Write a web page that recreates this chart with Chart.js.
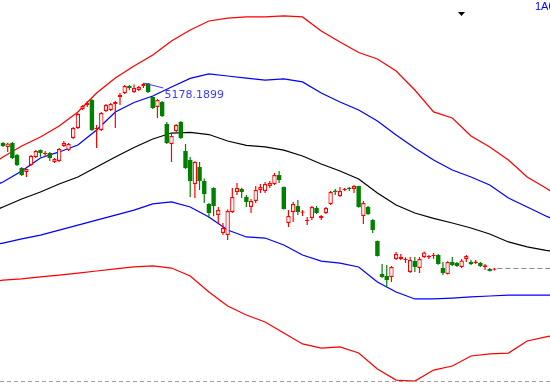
<!DOCTYPE html>
<html><head><meta charset="utf-8">
<script src="https://cdn.jsdelivr.net/npm/chart.js@4/dist/chart.umd.min.js"></script>
<style>html,body{margin:0;padding:0;background:#fff;overflow:hidden}#wrap{width:550px;height:384px;position:relative}</style>
</head><body><div id="wrap"><canvas id="c" width="550" height="384"></canvas></div>
<script>
// Daily candles (index = trading day)
const opens = [4494,4449,4494,4357,4209,4164,4243,4335,4414,4369,4380,4278,4289,4460,4414,4551,4665,4882,4927,4984,4654,4642,4859,4870,4939,5019,5064,5144,5076,5098,5144,5174,5019,4905,4962,4711,4483,4631,4734,4403,4300,4027,4221,4061,3799,3981,3673,3468,3445,3708,3936,3970,3879,3765,3833,3958,3947,4004,4027,4129,3993,3582,3708,3776,3700,3605,3639,3753,3639,3696,3799,3947,3890,3958,3981,3970,4004,3662,3765,3616,3377,3001,2978,2967,3172,3172,3160,3024,3149,3069,3195,3190,3206,3217,3069,3001,3138,3126,3081,3172,3138,3126,3126,3081,3058,3050];
const highs = [4506,4496,4506,4369,4221,4200,4357,4414,4420,4403,4392,4323,4437,4517,4494,4677,4836,4927,4973,4996,4699,4848,4939,4950,4973,5064,5155,5155,5160,5144,5178.1899,5177,5030,4996,4973,4734,4597,4711,4745,4483,4335,4289,4278,4090,3810,3990,3765,3582,3735,3981,4038,3985,3901,3856,4004,4027,4050,4061,4152,4175,3998,3730,3822,3844,3730,3650,3776,3776,3673,3765,3948,3970,3993,3981,3993,4015,4008,3833,3776,3628,3382,3115,3103,3092,3252,3229,3190,3195,3195,3195,3257,3217,3240,3229,3138,3145,3195,3138,3172,3217,3160,3160,3138,3115,3069,3069];
const lows = [4449,4392,4312,4232,4118,4107,4232,4323,4335,4335,4289,4266,4278,4449,4403,4540,4654,4870,4905,4631,4437,4631,4848,4859,4665,4927,5053,5098,5064,5087,5121,5064,4882,4779,4791,4483,4278,4620,4540,4198,3878,3867,3958,3810,3640,3660,3580,3445,3388,3696,3901,3867,3765,3696,3810,3924,3924,3981,4015,4038,3735,3536,3594,3673,3662,3559,3616,3685,3616,3685,3787,3901,3879,3947,3947,3924,3755,3571,3673,3468,3200,2955,2851,2910,3160,3160,3126,3012,3024,3012,3183,3172,3172,3105,2989,2995,3092,3081,3069,3138,3103,3115,3081,3046,3030,3040];
const closes = [4460,4488,4323,4243,4129,4198,4346,4403,4380,4380,4323,4312,4426,4494,4483,4665,4825,4916,4950,4642,4665,4836,4927,4939,4962,5041,5144,5121,5121,5133,5167,5076,4893,4984,4802,4494,4574,4699,4551,4209,4061,4278,4061,3913,3696,3776,3730,3525,3719,3879,3981,3936,3822,3833,3958,3993,4027,4038,4129,4072,3742,3662,3799,3708,3710,3616,3765,3696,3662,3753,3936,3936,3947,3970,3970,4004,3765,3810,3685,3502,3206,2967,2932,3081,3229,3195,3170,3160,3081,3172,3246,3206,3215,3115,3012,3138,3103,3092,3155,3206,3115,3143,3092,3101,3036,3053];

// Band lines, sampled at these trading-day slots
const bandSlots = [-1,0,4,8,12,16,20,24,28,32,36,40,44,48,52,56,60,64,68,72,76,80,84,88,92,96,100,104,108,112,116,117];
const upperOuter = [4300,4335,4460,4563,4688,4848,5064,5235,5372,5497,5657,5782,5885,5919,5931,5931,5942,5931,5771,5646,5526,5452,5315,5098,4848,4779,4574,4449,4300,4107,3981,3947];
const upperInner = [4027,4050,4175,4323,4392,4471,4642,4848,4956,5030,5133,5230,5281,5258,5235,5212,5224,5190,5064,4962,4870,4745,4585,4437,4300,4186,4107,4015,3867,3765,3662,3639];
const middle = [3742,3765,3856,3936,4027,4107,4221,4335,4443,4540,4608,4614,4591,4517,4466,4449,4414,4346,4255,4175,4084,3924,3787,3696,3634,3582,3525,3457,3366,3309,3269,3263];
const lowerInner = [3343,3354,3400,3445,3502,3559,3616,3673,3730,3799,3822,3765,3651,3502,3423,3411,3331,3217,3148,3126,3081,2910,2796,2716,2716,2727,2739,2750,2761,2761,2761,2761];
const lowerOuter = [2921,2932,2944,2967,2989,3012,3035,3058,3081,3092,3069,2978,2796,2636,2533,2454,2328,2203,2157,2169,2100,1918,1792,1781,1906,1952,2066,2089,2100,2237,2283,2294];

const codeLabel = '1A0001';

const N = opens.length;
const idx = opens.map((_, i) => i);
const isUp = idx.map(i => closes[i] >= opens[i]);
const UP = '#ff0000', DOWN = '#008000';
const band = arr => bandSlots.map((s, k) => ({x: s, y: arr[k]}));
const lineDs = (arr, color) => ({type: 'line', data: band(arr), borderColor: color, borderWidth: 1.25, pointRadius: 0, tension: 0, fill: false, order: 2});

const overlay = {
  id: 'overlay',
  afterDatasetsDraw(chart) {
    const {ctx, chartArea} = chart;
    const xs = chart.scales.x, ys = chart.scales.y;
    ctx.save();
    ctx.lineWidth = 1;
    ctx.strokeStyle = '#a0a0a0'; ctx.setLineDash([4, 3]);
    ctx.beginPath(); ctx.moveTo(chartArea.left, chartArea.bottom - 2.5); ctx.lineTo(chartArea.right, chartArea.bottom - 2.5); ctx.stroke();
    const last = N - 1;
    const ly = Math.round(ys.getPixelForValue(closes[last])) - 0.5;
    ctx.strokeStyle = '#888888'; ctx.setLineDash([5, 3]);
    ctx.beginPath(); ctx.moveTo(xs.getPixelForValue(last) + 3, ly); ctx.lineTo(chartArea.right, ly); ctx.stroke();
    ctx.setLineDash([]);
    let mi = 0; highs.forEach((h, i) => { if (h > highs[mi]) mi = i; });
    const px = xs.getPixelForValue(mi), py = ys.getPixelForValue(highs[mi]);
    ctx.strokeStyle = '#3c3cff';
    ctx.beginPath(); ctx.moveTo(px, py); ctx.lineTo(px + 20, py + 5); ctx.stroke();
    ctx.fillStyle = '#3c3cff'; ctx.font = '11px "DejaVu Sans"'; ctx.textBaseline = 'alphabetic'; ctx.textAlign = 'left';
    ctx.fillText(highs[mi].toFixed(4), px + 21, py + 15);
    ctx.fillStyle = '#0000ff'; ctx.font = '11px "Liberation Sans"'; ctx.textBaseline = 'top';
    ctx.fillText(codeLabel, 535, 1);
    ctx.fillStyle = '#000';
    ctx.beginPath(); ctx.moveTo(458, 12); ctx.lineTo(465, 12); ctx.lineTo(461.5, 16); ctx.closePath(); ctx.fill();
    ctx.restore();
  }
};

new Chart(document.getElementById('c'), {
  type: 'bar',
  data: {
    datasets: [
      {label: 'body', data: idx.map(i => ({x: i, y: [opens[i], closes[i]]})), grouped: false, barThickness: 4.4,
       backgroundColor: idx.map(i => isUp[i] ? '#ffffff' : DOWN), borderColor: idx.map(i => isUp[i] ? UP : DOWN),
       borderWidth: idx.map(i => isUp[i] ? 1.2 : 0), borderSkipped: false, minBarLength: 1.2, inflateAmount: 0, order: 0},
      {label: 'wick', data: idx.map(i => ({x: i, y: [lows[i], highs[i]]})), grouped: false, barThickness: 1.2,
       backgroundColor: idx.map(i => isUp[i] ? UP : DOWN), borderWidth: 0, inflateAmount: 0, order: 1},
      lineDs(upperOuter, '#ff0000'),
      lineDs(lowerOuter, '#ff0000'),
      lineDs(upperInner, '#0000ff'),
      lineDs(lowerInner, '#0000ff'),
      lineDs(middle, '#000000')
    ]
  },
  options: {
    responsive: false, animation: false, devicePixelRatio: 1, events: [],
    layout: {padding: 0},
    plugins: {legend: {display: false}, tooltip: {enabled: false}, title: {display: false}},
    scales: {
      x: {type: 'linear', display: false, offset: false, bounds: 'data', min: -0.641, max: 116.88},
      y: {type: 'linear', display: false, bounds: 'data', min: 1746.8, max: 6124.4}
    }
  },
  plugins: [overlay]
});
</script>
</body></html>
